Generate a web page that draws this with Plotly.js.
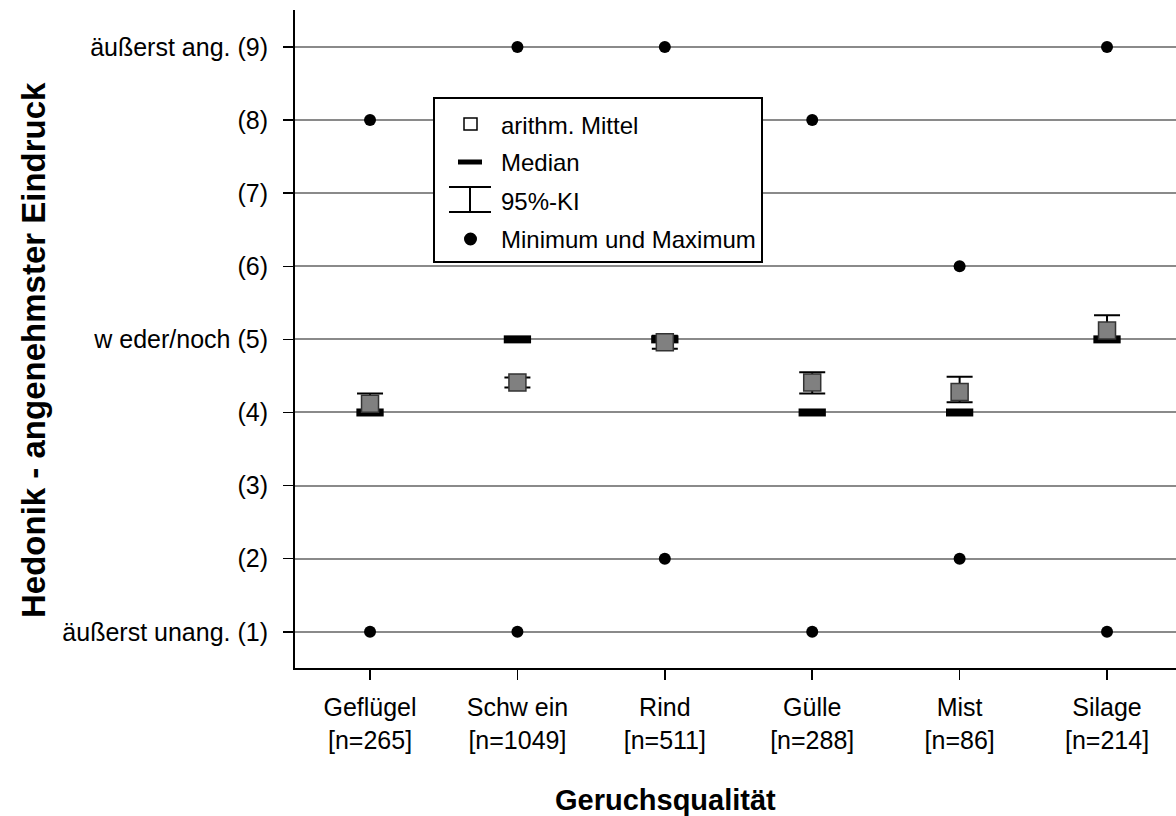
<!DOCTYPE html>
<html>
<head>
<meta charset="utf-8">
<script src="https://cdn.plot.ly/plotly-3.0.1.min.js"></script>
<style>html,body{margin:0;padding:0;background:#fff;}#chart{width:1176px;height:816px;}</style>
</head>
<body>
<div id="chart"></div>
<script>
// ---- data ----
const categories = ['Geflügel', 'Schw ein', 'Rind', 'Gülle', 'Mist', 'Silage'];
const nValues = [265, 1049, 511, 288, 86, 214];
const means = [4.12, 4.41, 4.96, 4.41, 4.28, 5.12];
const ciLow = [3.98, 4.34, 4.87, 4.26, 4.14, 4.97];
const ciHigh = [4.26, 4.48, 5.05, 4.55, 4.49, 5.33];
const medians = [4, 5, 5, 4, 4, 5];
const minima = [1, 1, 2, 1, 2, 1];
const maxima = [8, 9, 9, 8, 6, 9];
const yTickValues = [1, 2, 3, 4, 5, 6, 7, 8, 9];
const yTickLabels = ['äußerst unang. (1)', '(2)', '(3)', '(4)', 'w eder/noch (5)', '(6)', '(7)', '(8)', 'äußerst ang. (9)'];
const legendLabels = ['arithm. Mittel', 'Median', '95%-KI', 'Minimum und Maximum'];
const xTitle = 'Geruchsqualität';
const yTitle = 'Hedonik - angenehmster Eindruck';

// ---- layout helpers ----
const W = 1176, H = 816;
const M = {l: 295, r: 0, t: 10, b: 148};
const PW = W - M.l - M.r, PH = H - M.t - M.b;
const xp = px => (px - M.l) / PW;
const yp = py => (H - M.b - py) / PH;
const FONT = 'Liberation Sans, Arial, sans-serif';

const xIdx = categories.map((_, i) => i);
const tickText = categories.map((c, i) => c + '<br>[n=' + nValues[i] + ']');

const traces = [
  { // min & max dots
    type: 'scatter', mode: 'markers', showlegend: false, hoverinfo: 'skip',
    x: xIdx.concat(xIdx), y: minima.concat(maxima),
    marker: {symbol: 'circle', size: 12, color: '#000'}
  },
  { // medians
    type: 'scatter', mode: 'markers', showlegend: false, hoverinfo: 'skip',
    x: xIdx, y: medians,
    marker: {symbol: 'line-ew', size: 19.5, color: '#000', line: {color: '#000', width: 8}}
  },
  { // means with 95% CI
    type: 'scatter', mode: 'markers', showlegend: false, hoverinfo: 'skip',
    x: xIdx, y: means,
    error_y: {type: 'data', symmetric: false,
      array: means.map((m, i) => ciHigh[i] - m),
      arrayminus: means.map((m, i) => m - ciLow[i]),
      color: '#000', thickness: 2, width: 13},
    marker: {symbol: 'square', size: 17, color: '#808080', line: {color: '#333', width: 1.5}}
  }
];

// legend (drawn manually)
const rowY = [124, 162, 200, 239];
const shapes = [
  {type: 'rect', xref: 'paper', yref: 'paper', layer: 'above',
   x0: xp(434), x1: xp(762), y0: yp(262), y1: yp(98),
   line: {color: '#000', width: 2}, fillcolor: '#fff'},
  {type: 'rect', xref: 'paper', yref: 'paper', layer: 'above',
   x0: xp(464), x1: xp(477), y0: yp(rowY[0] + 6), y1: yp(rowY[0] - 6),
   line: {color: '#000', width: 1.5}, fillcolor: '#fff'},
  {type: 'rect', xref: 'paper', yref: 'paper', layer: 'above',
   x0: xp(458), x1: xp(482), y0: yp(rowY[1] + 2.5), y1: yp(rowY[1] - 2.5),
   line: {width: 0}, fillcolor: '#000'},
  {type: 'line', xref: 'paper', yref: 'paper', layer: 'above',
   x0: xp(449), x1: xp(491), y0: yp(rowY[2] - 13), y1: yp(rowY[2] - 13), line: {color: '#000', width: 2}},
  {type: 'line', xref: 'paper', yref: 'paper', layer: 'above',
   x0: xp(470), x1: xp(470), y0: yp(rowY[2] - 13), y1: yp(rowY[2] + 12), line: {color: '#000', width: 2}},
  {type: 'line', xref: 'paper', yref: 'paper', layer: 'above',
   x0: xp(449), x1: xp(491), y0: yp(rowY[2] + 12), y1: yp(rowY[2] + 12), line: {color: '#000', width: 2}},
  {type: 'circle', xref: 'paper', yref: 'paper', layer: 'above',
   x0: xp(464), x1: xp(477), y0: yp(rowY[3] + 6.5), y1: yp(rowY[3] - 6.5),
   line: {width: 0}, fillcolor: '#000'}
];

const annotations = legendLabels.map((t, i) => ({
  text: t, xref: 'paper', yref: 'paper', x: xp(499), y: yp(rowY[i] + 1),
  xanchor: 'left', yanchor: 'middle', showarrow: false,
  font: {family: FONT, size: 24, color: '#000'}
}));
annotations.push({
  text: xTitle, xref: 'paper', yref: 'paper', x: xp(665), y: yp(800),
  xanchor: 'center', yanchor: 'middle', showarrow: false,
  font: {family: FONT, size: 29, color: '#000', weight: 'bold'}
});
annotations.push({
  text: yTitle, xref: 'paper', yref: 'paper', x: xp(33), y: yp(350),
  xanchor: 'center', yanchor: 'middle', showarrow: false, textangle: -90,
  font: {family: FONT, size: 33, color: '#000', weight: 'bold'}
});

const layout = {
  width: W, height: H,
  margin: M,
  paper_bgcolor: '#fff', plot_bgcolor: '#fff',
  showlegend: false,
  font: {family: FONT, size: 24, color: '#000'},
  xaxis: {
    range: [-0.509, 5.468], tickmode: 'array', tickvals: xIdx, ticktext: tickText,
    showgrid: false, zeroline: false, showline: true, linecolor: '#000', linewidth: 2,
    ticks: 'outside', ticklen: 10, tickwidth: 1.5, tickcolor: '#000',
    tickfont: {family: FONT, size: 25, color: '#000'}, ticklabelstandoff: 6,
    fixedrange: true
  },
  yaxis: {
    range: [0.505, 9.505], tickmode: 'array', tickvals: yTickValues, ticktext: yTickLabels,
    showgrid: true, gridcolor: '#8a8a8a', gridwidth: 2,
    zeroline: false, showline: true, linecolor: '#000', linewidth: 2,
    ticks: 'outside', ticklen: 10, tickwidth: 1.5, tickcolor: '#000',
    tickfont: {family: FONT, size: 25, color: '#000'}, ticklabelstandoff: 10,
    fixedrange: true
  },
  shapes: shapes,
  annotations: annotations
};

Plotly.newPlot('chart', traces, layout, {displayModeBar: false, staticPlot: true});
</script>
</body>
</html>
